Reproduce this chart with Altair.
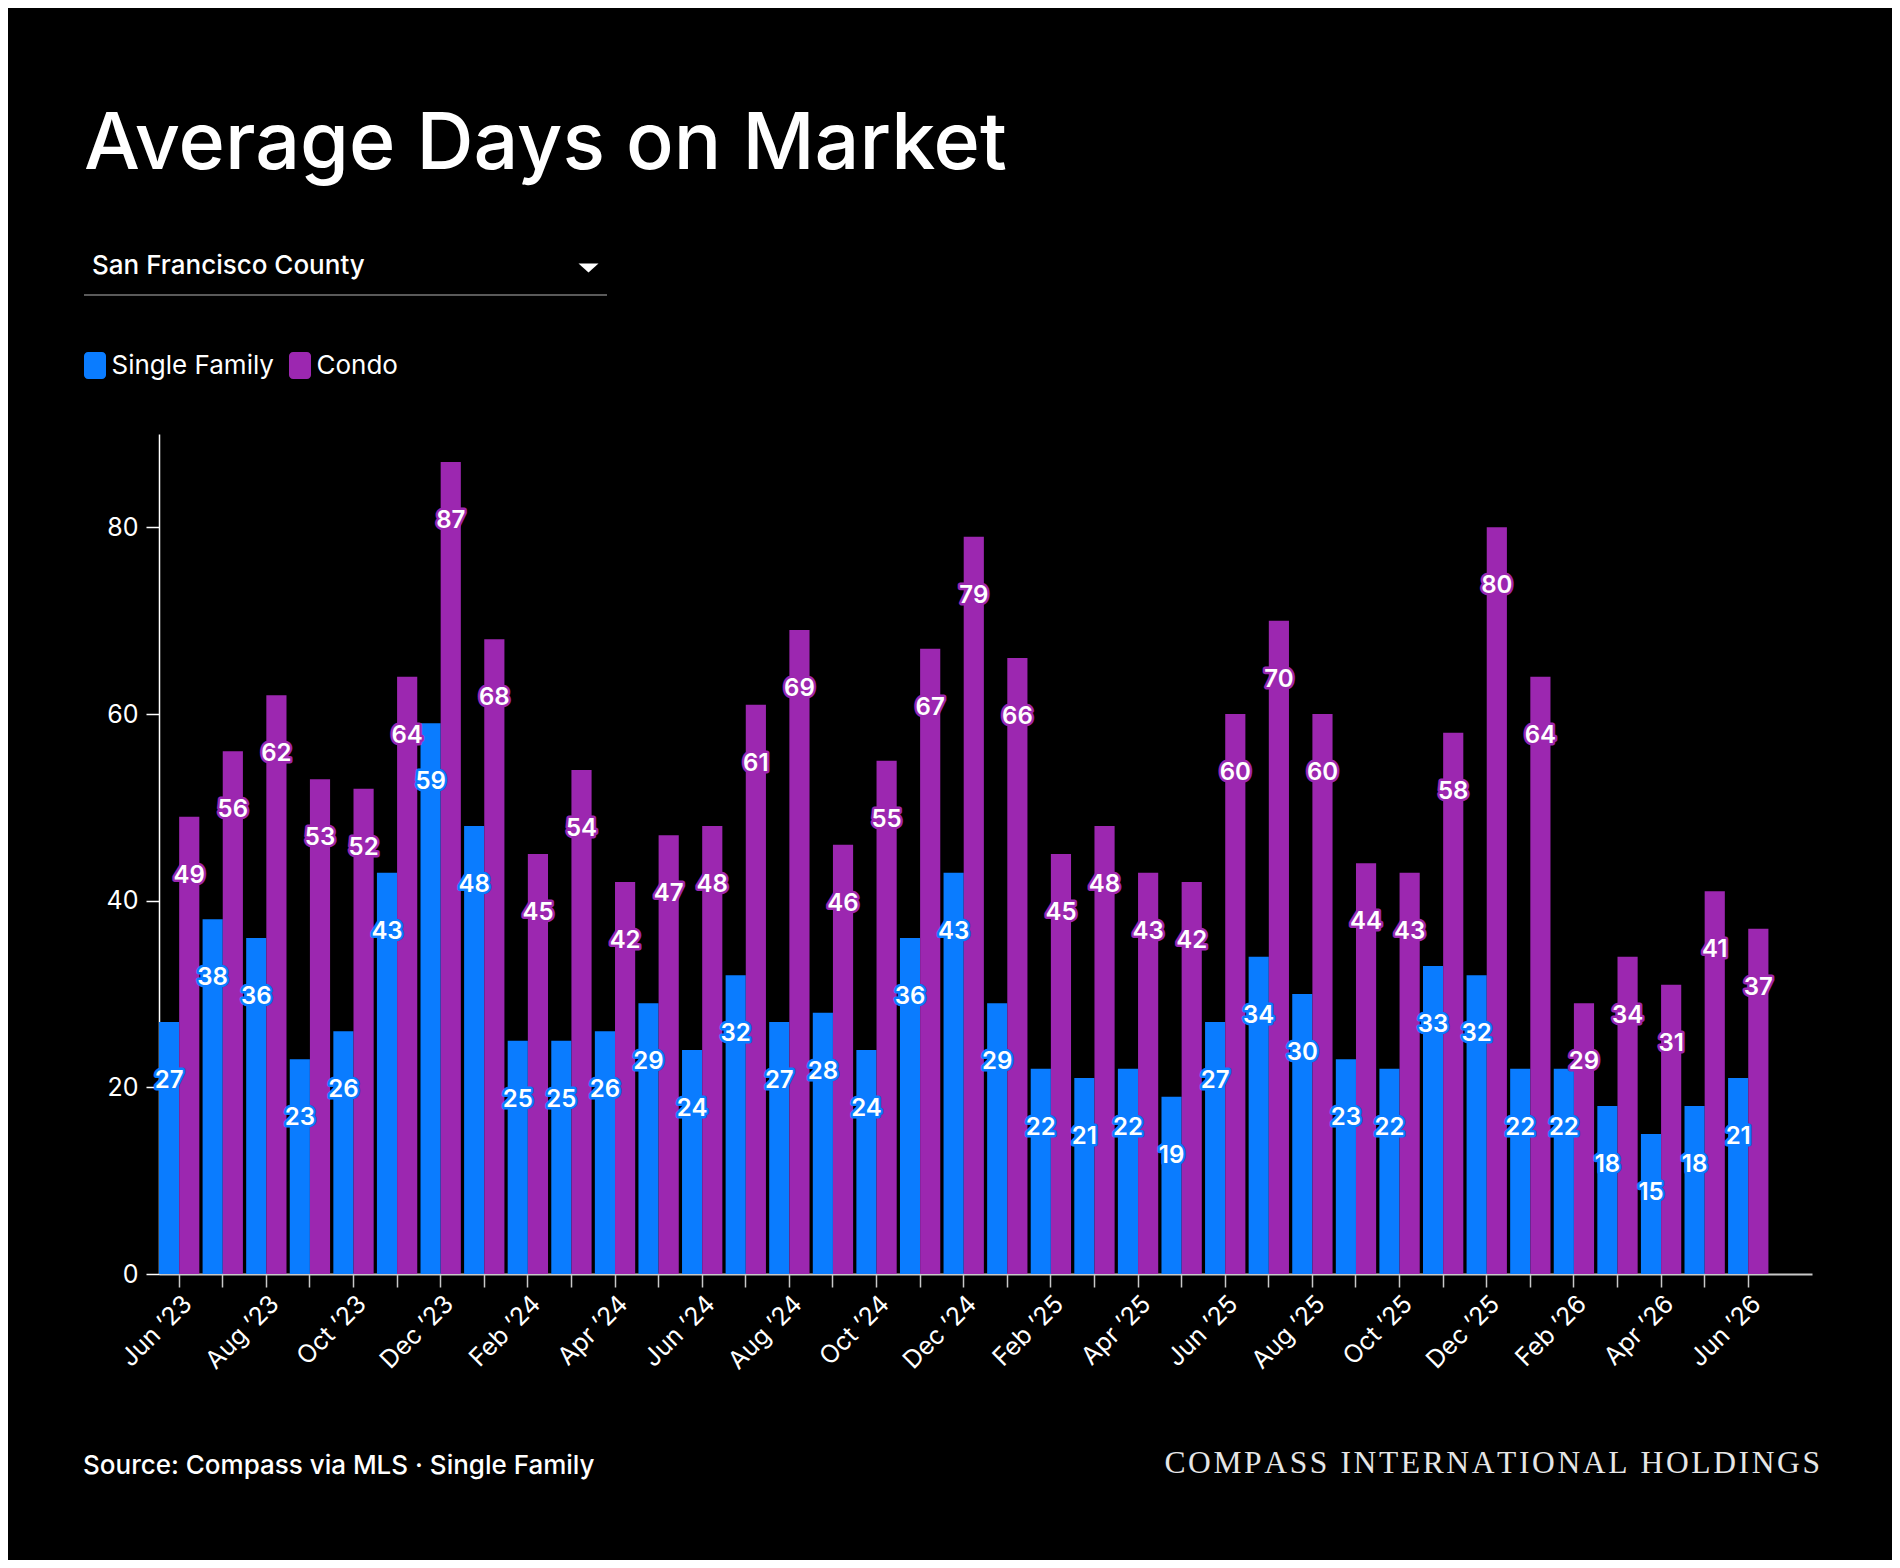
import altair as alt
import pandas as pd

# ---------------- data ----------------
months = [
    "Jun ’23", "Jul ’23", "Aug ’23", "Sep ’23", "Oct ’23", "Nov ’23", "Dec ’23",
    "Jan ’24", "Feb ’24", "Mar ’24", "Apr ’24", "May ’24", "Jun ’24", "Jul ’24",
    "Aug ’24", "Sep ’24", "Oct ’24", "Nov ’24", "Dec ’24",
    "Jan ’25", "Feb ’25", "Mar ’25", "Apr ’25", "May ’25", "Jun ’25", "Jul ’25",
    "Aug ’25", "Sep ’25", "Oct ’25", "Nov ’25", "Dec ’25",
    "Jan ’26", "Feb ’26", "Mar ’26", "Apr ’26", "May ’26", "Jun ’26",
]
single_family = [27, 38, 36, 23, 26, 43, 59, 48, 25, 25, 26, 29, 24, 32, 27, 28, 24, 36, 43,
                 29, 22, 21, 22, 19, 27, 34, 30, 23, 22, 33, 32, 22, 22, 18, 15, 18, 21]
condo = [49, 56, 62, 53, 52, 64, 87, 68, 45, 54, 42, 47, 48, 61, 69, 46, 55, 67, 79,
         66, 45, 48, 43, 42, 60, 70, 60, 44, 43, 58, 80, 64, 29, 34, 31, 41, 37]
series_names = ["Single Family", "Condo"]
series_colors = ["#0A7CFF", "#9C27B0"]
y_ticks = [0, 20, 40, 60, 80]

title_text = "Average Days on Market"
dropdown_text = "San Francisco County"
source_text = "Source: Compass via MLS · Single Family"
brand_text = "COMPASS INTERNATIONAL HOLDINGS"

FONT = "Inter"

rows = []
for m, sf, c in zip(months, single_family, condo):
    rows.append({"month": m, "series": "Single Family", "value": sf})
    rows.append({"month": m, "series": "Condo", "value": c})
df = pd.DataFrame(rows)

spare = "\u2009"  # empty band after the last month
label_expr = ("indexof(['Feb','Apr','Jun','Aug','Oct','Dec'], "
              "substring(datum.value, 0, 3)) >= 0 ? datum.value : ''")

x_enc = alt.X(
    "month:N",
    scale=alt.Scale(domain=months + [spare], paddingInner=0.075, paddingOuter=0),
    axis=alt.Axis(values=months, labelExpr=label_expr, title=None, labelAngle=-45,
                  labelFont=FONT, labelFontSize=25, labelColor="white", labelPadding=4,
                  domainColor="#c8c8c8", domainWidth=2, tickColor="#c8c8c8",
                  tickSize=13, tickWidth=1.5),
)
xoff_enc = alt.XOffset("series:N",
                       scale=alt.Scale(domain=series_names, paddingInner=0, paddingOuter=0))
y_enc = alt.Y(
    "value:Q",
    scale=alt.Scale(domain=[0, 90], nice=False),
    axis=alt.Axis(values=y_ticks, title=None, grid=False, labelFont=FONT,
                  labelFontSize=25, labelColor="white", labelPadding=8,
                  domainColor="white", domainWidth=1.5, tickColor="white",
                  tickSize=13, tickWidth=1.5),
)

legend_symbol = ("M-0.515,-1 H0.515 A0.3,0.3 0 0 1 0.815,-0.7 V0.7 "
                 "A0.3,0.3 0 0 1 0.515,1 H-0.515 A0.3,0.3 0 0 1 -0.815,0.7 "
                 "V-0.7 A0.3,0.3 0 0 1 -0.515,-1 Z")

bars = alt.Chart(df).mark_bar(strokeWidth=0).encode(
    x=x_enc,
    xOffset=xoff_enc,
    y=y_enc,
    color=alt.Color(
        "series:N",
        scale=alt.Scale(domain=series_names, range=series_colors),
        legend=alt.Legend(
            title=None, orient="none", legendX=-77.5, legendY=-82,
            direction="horizontal", symbolType=legend_symbol, symbolSize=729,
            symbolStrokeWidth=0, symbolOpacity=1, labelFont=FONT,
            labelFontSize=26, labelColor="white", labelOffset=3,
            columnPadding=12, padding=0, labelLimit=400,
        ),
    ),
)

halo = alt.Chart(df).mark_text(
    dy=59, font=FONT, fontSize=24, fontWeight=600, strokeWidth=5,
    strokeJoin="round", fill="white",
).encode(
    x=x_enc, xOffset=xoff_enc, y=y_enc,
    text=alt.Text("value:Q", format="d"),
    stroke=alt.Stroke("series:N",
                      scale=alt.Scale(domain=series_names, range=series_colors),
                      legend=None),
)

labels = alt.Chart(df).mark_text(
    dy=59, font=FONT, fontSize=24, fontWeight=600, fill="white",
).encode(
    x=x_enc, xOffset=xoff_enc, y=y_enc,
    text=alt.Text("value:Q", format="d"),
)

one = pd.DataFrame({"k": [0]})

title = alt.Chart(one).mark_text(
    text=title_text, align="left", baseline="alphabetic", font=FONT,
    fontSize=79, fontWeight=500, color="white",
).encode(x=alt.value(-75), y=alt.value(-265))

dropdown = alt.Chart(one).mark_text(
    text=dropdown_text, align="left", baseline="alphabetic", font=FONT,
    fontSize=26, fontWeight=500, color="white",
).encode(x=alt.value(-67), y=alt.value(-160))

triangle = alt.Chart(one).mark_point(
    shape="M-1,-0.45 L1,-0.45 L0,0.45 Z", size=400, filled=True,
    color="white", opacity=1, strokeWidth=0,
).encode(x=alt.value(429.5), y=alt.value(-166))

underline = alt.Chart(one).mark_rule(color="#5a5a5a", strokeWidth=2).encode(
    x=alt.value(-75), x2=alt.value(448), y=alt.value(-139)
)

source = alt.Chart(one).mark_text(
    text=source_text, align="left", baseline="alphabetic", font=FONT,
    fontSize=26, fontWeight=500, color="white",
).encode(x=alt.value(-76), y=alt.value(1040))

tracked_brand = "\u200a".join(brand_text)
brand = alt.Chart(one).mark_text(
    text=tracked_brand, align="right", baseline="alphabetic",
    font="Liberation Serif", fontSize=31.5, color="#e6e6e6",
).encode(x=alt.value(1661), y=alt.value(1039))

chart = alt.layer(
    bars, halo, labels, title, dropdown, triangle, underline, source, brand
).properties(
    width=1653,
    height=840,
    background="black",
    padding={"left": 151, "top": 426, "right": 80, "bottom": 286},
    autosize=alt.AutoSizeParams(type="none"),
).configure_view(stroke=None)

chart.save("out.html", embed_options={"renderer": "svg", "actions": False})
